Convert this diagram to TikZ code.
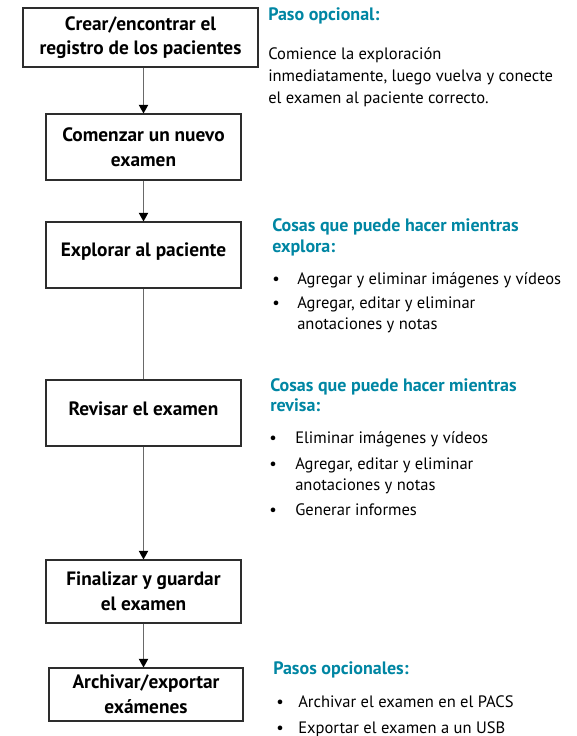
\documentclass[tikz,border=0pt]{standalone}
\usepackage{fontspec}
\setmainfont{PT Sans}
\usetikzlibrary{arrows.meta}

\definecolor{headteal}{RGB}{0,134,163}
\definecolor{boxline}{RGB}{45,45,45}
\definecolor{flowline}{RGB}{105,105,105}

\begin{document}
\begin{tikzpicture}[x=0.75pt,y=0.75pt,yscale=-1,xscale=1,
  stepbox/.style={draw=boxline, line width=0.8pt, align=center, inner sep=0pt,
    font=\bfseries\fontsize{14.5}{18.5}\selectfont},
  flow/.style={draw=flowline, line width=0.9pt,
    -{Triangle[color=black,length=6.5pt,width=7pt]}},
  plainflow/.style={draw=flowline, line width=0.9pt},
  head/.style={anchor=base west, inner sep=0pt, text=headteal,
    font=\bfseries\fontsize{13.5}{16}\selectfont},
  body/.style={anchor=base west, inner sep=0pt, font=\fontsize{12.4}{16}\selectfont},
  dot/.style={anchor=base, inner sep=0pt, font=\fontsize{12.4}{16}\selectfont}
]
\useasboundingbox (0,0) rectangle (577,736);

%Boxes of the steps
\node [stepbox, minimum width=176.25pt, minimum height=44.25pt] (crear) at (140.5,37.5)
  {Crear/encontrar el\\registro de los pacientes};
\node [stepbox, minimum width=146.25pt, minimum height=49.5pt] (comenzar) at (143.5,147)
  {Comenzar un nuevo\\examen};
\node [stepbox, minimum width=146.25pt, minimum height=49.5pt, text depth=8pt] (explorar) at (143.5,255)
  {Explorar al paciente};
\node [stepbox, minimum width=146.25pt, minimum height=49.5pt, text depth=7pt] (revisar) at (143.5,413)
  {Revisar el examen};
\node [stepbox, minimum width=146.25pt, minimum height=47.25pt] (finalizar) at (143.5,591.5)
  {Finalizar y guardar\\el examen};
\node [stepbox, minimum width=145.5pt, minimum height=39.75pt] (archivar) at (146,694.5)
  {Archivar/exportar\\exámenes};

%Connectors
\draw [flow] (crear.south -| comenzar.north) -- (comenzar.north);
\draw [flow] (comenzar) -- (explorar);
\draw [plainflow] (explorar) -- (revisar);
\draw [flow] (revisar) -- (finalizar);
\draw [flow] (finalizar.south -| 143.5,0) -- (archivar.north -| 143.5,0);

% Text Node
\node [head] (paso) at (268,20) {Paso opcional:};
\node [body] (comience1) at (268,59) {Comience la exploración};
\node [body] (comience2) at (268,81) {inmediatamente, luego vuelva y conecte};
\node [body] (comience3) at (268,103) {el examen al paciente correcto.};

% Text Node
\node [head] (cosasE1) at (272,231) {Cosas que puede hacer mientras};
\node [head] (cosasE2) at (272,252) {explora:};
\node [dot] (dotE1) at (276,284) {\textbullet};
\node [body] (itemE1) at (297,284) {Agregar y eliminar imágenes y vídeos};
\node [dot] (dotE2) at (276,308) {\textbullet};
\node [body] (itemE2) at (297,308) {Agregar, editar y eliminar};
\node [body] (itemE2b) at (297,329) {anotaciones y notas};

% Text Node
\node [head] (cosasR1) at (270,391) {Cosas que puede hacer mientras};
\node [head] (cosasR2) at (270,411) {revisa:};
\node [dot] (dotR1) at (273,443) {\textbullet};
\node [body] (itemR1) at (295,443) {Eliminar imágenes y vídeos};
\node [dot] (dotR2) at (273,469) {\textbullet};
\node [body] (itemR2) at (295,469) {Agregar, editar y eliminar};
\node [body] (itemR2b) at (295,490) {anotaciones y notas};
\node [dot] (dotR3) at (273,515) {\textbullet};
\node [body] (itemR3) at (295,515) {Generar informes};

% Text Node
\node [head] (pasos) at (273,674) {Pasos opcionales:};
\node [dot] (dotA1) at (280,707) {\textbullet};
\node [body] (itemA1) at (298,707) {Archivar el examen en el PACS};
\node [dot] (dotA2) at (280,733) {\textbullet};
\node [body] (itemA2) at (298,733) {Exportar el examen a un USB};

\end{tikzpicture}
\end{document}
